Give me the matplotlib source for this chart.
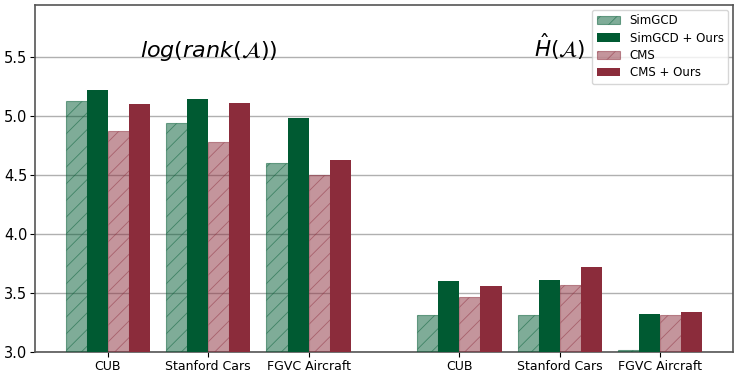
import matplotlib
matplotlib.use("Agg")
import matplotlib.pyplot as plt
import numpy as np

categories = ["CUB", "Stanford Cars", "FGVC Aircraft", "CUB", "Stanford Cars", "FGVC Aircraft"]
simgcd = [5.13, 4.94, 4.60, 3.316, 3.316, 3.02]
simgcd_ours = [5.22, 5.14, 4.98, 3.604, 3.613, 3.325]
cms = [4.87, 4.78, 4.50, 3.463, 3.570, 3.316]
cms_ours = [5.10, 5.11, 4.63, 3.562, 3.723, 3.341]
series_names = ["SimGCD", "SimGCD + Ours", "CMS", "CMS + Ours"]

green = "#005a32"
red = "#8b2c3b"

plt.rcParams['hatch.linewidth'] = 0.6

fig = plt.figure(figsize=(7.35, 3.73), dpi=100)
ax = fig.add_axes([35/735, 21/373, 698/735, 347/373])

x = np.array([0, 1, 2, 3.5, 4.5, 5.5])
w = 0.21
ax.bar(x - 1.5*w, simgcd, w, color=green, alpha=0.5, hatch="//", edgecolor=green, linewidth=0.8, label=series_names[0], zorder=3)
ax.bar(x - 0.5*w, simgcd_ours, w, color=green, label=series_names[1], zorder=3)
ax.bar(x + 0.5*w, cms, w, color=red, alpha=0.5, hatch="//", edgecolor=red, linewidth=0.8, label=series_names[2], zorder=3)
ax.bar(x + 1.5*w, cms_ours, w, color=red, label=series_names[3], zorder=3)

ax.set_ylim(3.0, 5.94)
ax.set_xlim(-0.725, 6.225)
ax.set_yticks([3.0, 3.5, 4.0, 4.5, 5.0, 5.5])
ax.set_yticklabels(["3.0", "3.5", "4.0", "4.5", "5.0", "5.5"], fontsize=10.5)
ax.set_xticks(x)
ax.set_xticklabels(categories, fontsize=9)
ax.tick_params(axis="y", pad=2)
ax.tick_params(axis="x", pad=2)
ax.yaxis.grid(True, color="#b0b0b0", linewidth=1.0, zorder=0)
ax.set_axisbelow(True)
for s in ax.spines.values():
    s.set_color("#555555")
    s.set_linewidth(1.2)

ax.text(1, 5.5, r"$log(rank(\mathcal{A}))$", ha="center", va="baseline", fontsize=16)
ax.text(4.5, 5.5, r"$\hat{H}(\mathcal{A})$", ha="center", va="baseline", fontsize=15.5)

ax.legend(loc="upper right", fontsize=8.5, framealpha=0.8, borderaxespad=0.4, labelspacing=0.36)

fig.savefig("out.png", dpi=100)
